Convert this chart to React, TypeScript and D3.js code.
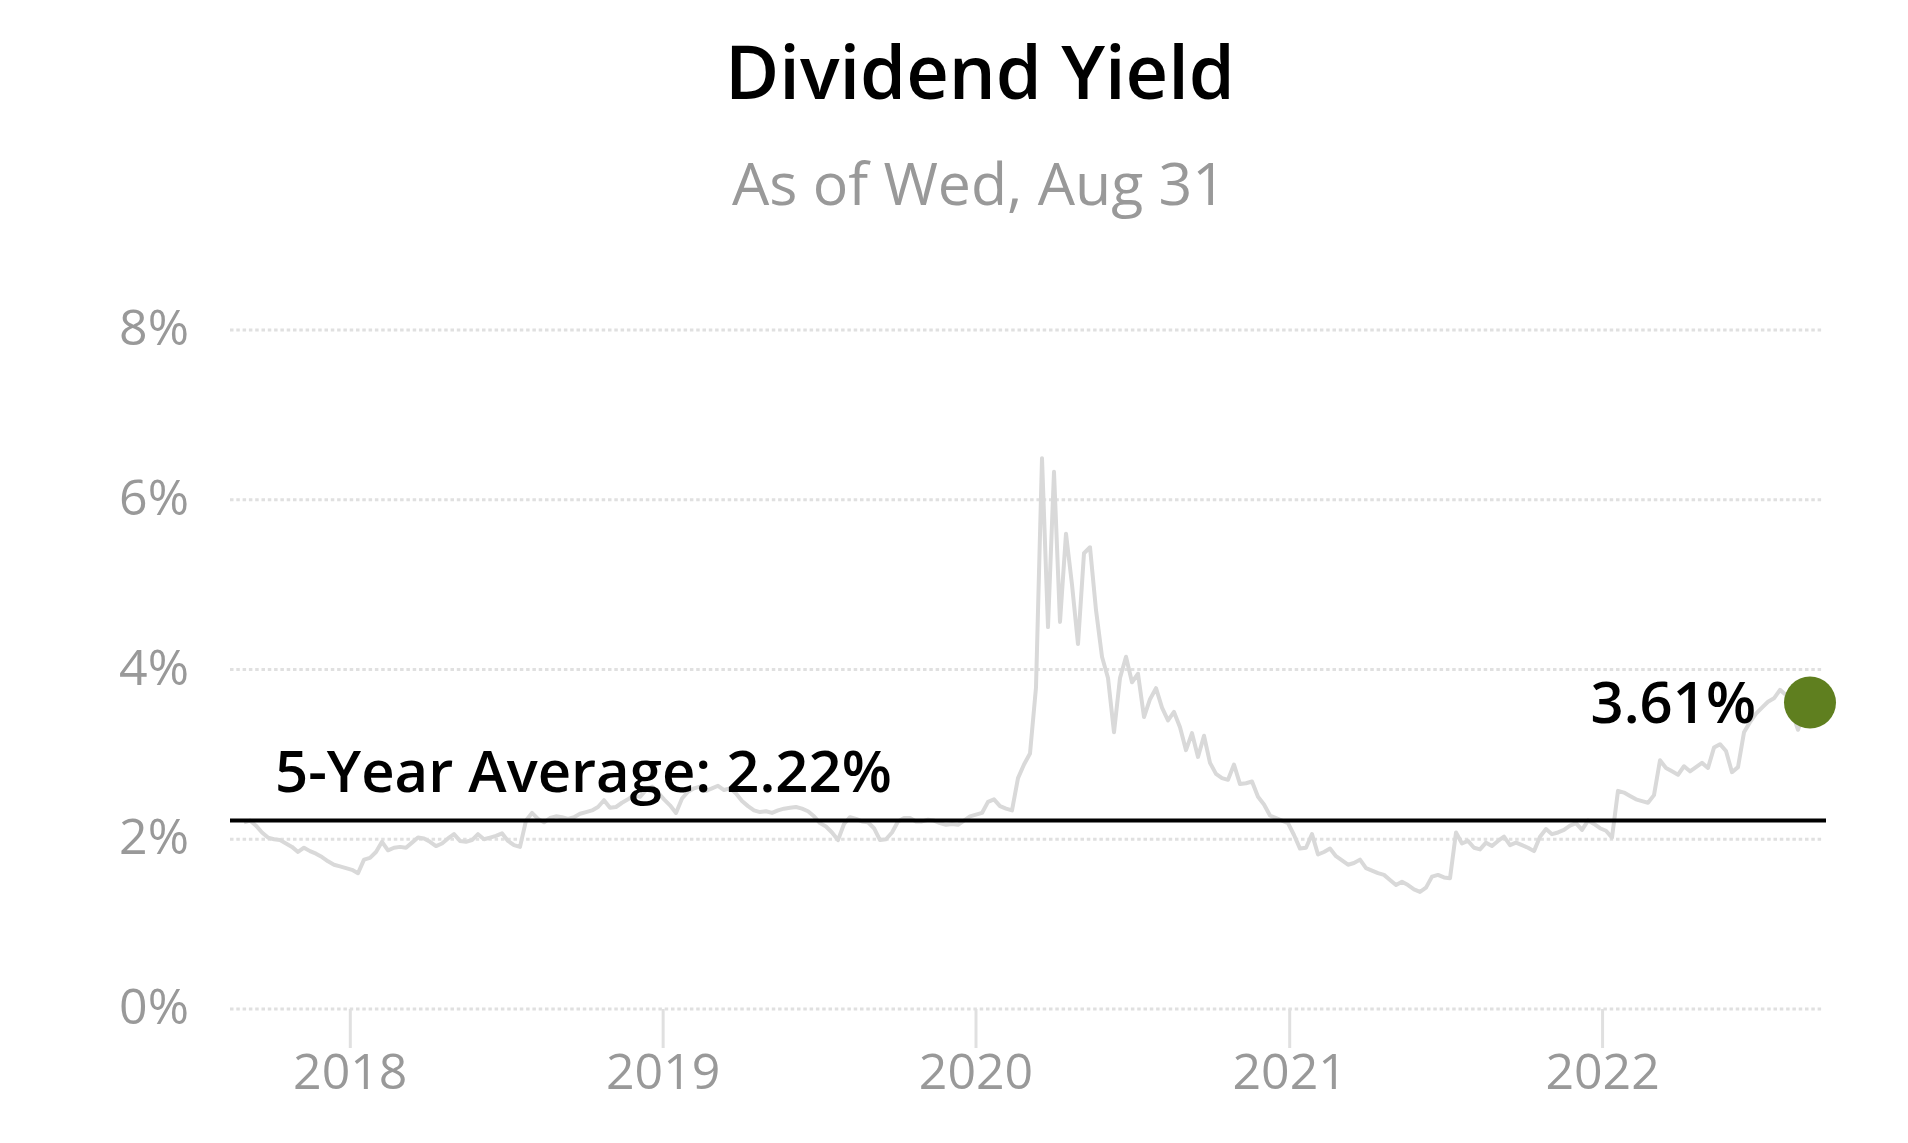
import * as d3 from "d3"

// Weekly dividend yield (%) starting Wed 2017-08-30, last point Wed 2022-08-31
const startDate = "2017-08-30"
const yields = [
  2.2, 2.22, 2.16, 2.08, 2.02, 2.0, 1.99, 1.95, 1.91, 1.85,
  1.9, 1.86, 1.83, 1.79, 1.74, 1.7, 1.68, 1.66, 1.64, 1.6,
  1.76, 1.78, 1.85, 1.97, 1.87, 1.9, 1.91, 1.9, 1.96, 2.02,
  2.01, 1.97, 1.92, 1.95, 2.01, 2.06, 1.98, 1.97, 1.99, 2.06,
  2.0, 2.02, 2.04, 2.07, 1.98, 1.93, 1.91, 2.22, 2.31, 2.24,
  2.2, 2.25, 2.27, 2.26, 2.24, 2.26, 2.3, 2.32, 2.34, 2.38,
  2.46, 2.37, 2.38, 2.43, 2.47, 2.52, 2.5, 2.58, 2.62, 2.55,
  2.47, 2.4, 2.31, 2.48, 2.56, 2.6, 2.62, 2.57, 2.6, 2.63,
  2.58, 2.6, 2.54, 2.45, 2.39, 2.34, 2.32, 2.33, 2.31, 2.34,
  2.36, 2.37, 2.38, 2.36, 2.33, 2.27, 2.19, 2.15, 2.08, 1.99,
  2.18, 2.26, 2.24, 2.21, 2.2, 2.13, 1.99, 2.0, 2.08, 2.21,
  2.25, 2.25, 2.21, 2.21, 2.23, 2.22, 2.19, 2.17, 2.18, 2.17,
  2.22, 2.27, 2.29, 2.31, 2.44, 2.47, 2.39, 2.36, 2.34, 2.72,
  2.88, 3.01, 3.79, 6.49, 4.5, 6.33, 4.56, 5.6, 5.0, 4.3,
  5.37, 5.44, 4.7, 4.15, 3.9, 3.26, 3.9, 4.15, 3.85, 3.95,
  3.44, 3.65, 3.78, 3.55, 3.4, 3.5, 3.32, 3.05, 3.25, 2.97,
  3.22, 2.9, 2.77, 2.72, 2.7, 2.88, 2.65, 2.66, 2.68, 2.5,
  2.41, 2.28, 2.25, 2.22, 2.19, 2.05, 1.89, 1.9, 2.06, 1.82,
  1.85, 1.89, 1.8, 1.75, 1.7, 1.72, 1.76, 1.66, 1.63, 1.6,
  1.58, 1.52, 1.46, 1.5, 1.46, 1.41, 1.38, 1.43, 1.56, 1.58,
  1.55, 1.54, 2.08, 1.95, 1.98, 1.9, 1.88, 1.96, 1.92, 1.98,
  2.03, 1.93, 1.96, 1.93, 1.9, 1.86, 2.03, 2.12, 2.06, 2.08,
  2.11, 2.16, 2.19, 2.11, 2.22, 2.18, 2.13, 2.1, 2.02, 2.57,
  2.55, 2.51, 2.47, 2.45, 2.43, 2.52, 2.93, 2.84, 2.8, 2.76,
  2.86, 2.8, 2.85, 2.9, 2.84, 3.08, 3.12, 3.04, 2.79, 2.85,
  3.26, 3.38, 3.48, 3.55, 3.62, 3.66, 3.76, 3.7, 3.5, 3.29,
  3.5, 3.61,
]

const yTicks = [0, 2, 4, 6, 8]
const xTickYears = ["2018", "2019", "2020", "2021", "2022"]
const fiveYearAverage = 2.22
const latestYield = 3.61
const title = "Dividend Yield"
const subtitle = "As of Wed, Aug 31"

const W = 1908
const H = 1143
const FONT = "'Open Sans', 'Noto Sans', sans-serif"

export default function App() {
  const start = new Date(startDate + "T00:00:00Z")
  const data = yields.map((v, i) => ({ date: d3.utcDay.offset(start, 7 * i), value: v }))

  // marco del grafico
  const left = 230
  const gridRight = 1823
  const avgRight = 1826

  const x = d3
    .scaleUtc()
    .domain(d3.extent(data, (d) => d.date) as [Date, Date])
    .range([244, 1810])

  const y = d3.scaleLinear().domain([0, 8]).range([1009, 330])

  const line = d3
    .line<{ date: Date; value: number }>()
    .x((d) => x(d.date))
    .y((d) => y(d.value))

  const last = data[data.length - 1]
  const lastX = x(last.date)
  const lastY = y(latestYield)
  const avgY = y(fiveYearAverage)

  return (
    <svg
      width={W}
      height={H}
      style={{ position: "absolute", left: 0, top: 0, background: "#fff" }}
      fontFamily={FONT}
    >
      <rect width={W} height={H} fill="#fff" />

      {/* titulo */}
      <text x={980} y={99} textAnchor="middle" fontSize={74} fontWeight={600} fill="#000">
        {title}
      </text>
      <text x={979} y={205} textAnchor="middle" fontSize={59} fill="#999">
        {subtitle}
      </text>

      {/* grid + y labels */}
      {yTicks.map((t) => (
        <g key={t}>
          <line
            x1={left}
            x2={gridRight}
            y1={y(t)}
            y2={y(t)}
            stroke="#e0e0e0"
            strokeWidth={3}
            strokeDasharray="3.5 2.8"
          />
          <text x={189} y={y(t) + 15} textAnchor="end" fontSize={50} fill="#999">
            {t}%
          </text>
        </g>
      ))}

      {/* x axis ticks */}
      {xTickYears.map((yr) => {
        const xx = x(new Date(yr + "-01-01T00:00:00Z"))
        return (
          <g key={yr}>
            <line x1={xx} x2={xx} y1={y(0)} y2={1048} stroke="#e0e0e0" strokeWidth={3} />
            <text x={xx} y={1089} textAnchor="middle" fontSize={50} fill="#999">
              {yr}
            </text>
          </g>
        )
      })}

      {/* serie */}
      <path d={line(data) ?? ""} fill="none" stroke="#d9d9d9" strokeWidth={4} strokeLinejoin="round" />

      {/* promedio 5 años */}
      <line x1={left} x2={avgRight} y1={avgY} y2={avgY} stroke="#000" strokeWidth={4} />
      <text x={275} y={avgY - 29} fontSize={58} fontWeight={600} fill="#000">
        5-Year Average: {fiveYearAverage.toFixed(2)}%
      </text>

      {/* ultimo valor */}
      <circle cx={lastX} cy={lastY} r={26} fill="#5f7f1f" />
      <text x={lastX - 54} y={lastY + 20} textAnchor="end" fontSize={58} fontWeight={600} fill="#000">
        {latestYield.toFixed(2)}%
      </text>
    </svg>
  )
}
